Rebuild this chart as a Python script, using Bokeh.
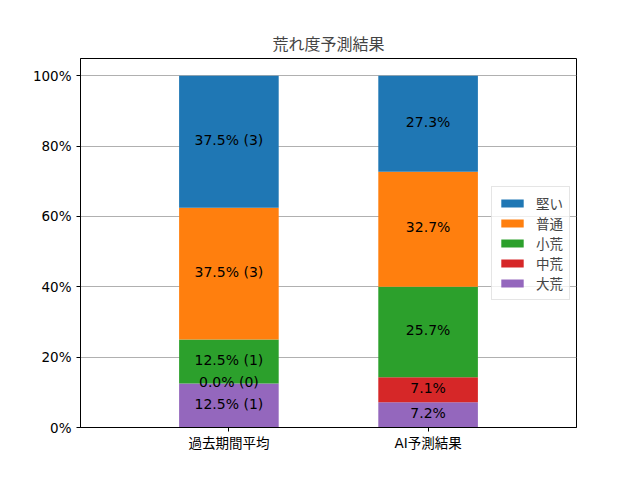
from bokeh.plotting import figure
from bokeh.models import ColumnDataSource, Range1d, FixedTicker, Legend, LegendItem
from bokeh.core.properties import value
from bokeh.embed import file_html
from bokeh.resources import INLINE

categories = ["過去期間平均", "AI予測結果"]
series = ["大荒", "中荒", "小荒", "普通", "堅い"]
colors = ["#9467bd", "#d62728", "#2ca02c", "#ff7f0e", "#1f77b4"]
past_values = [12.5, 0.0, 12.5, 37.5, 37.5]
past_counts = [1, 0, 1, 3, 3]
ai_values = [7.2, 7.1, 25.7, 32.7, 27.3]
y_ticks = [0, 20, 40, 60, 80, 100]

FONT = "DejaVu Sans, Noto Sans CJK JP"
xs = list(range(len(categories)))

data = {"x": xs}
for i, s in enumerate(series):
    data[s] = [past_values[i], ai_values[i]]
src = ColumnDataSource(data)

p = figure(width=624, height=464, output_backend="svg", toolbar_location=None,
           x_range=Range1d(-0.745, 1.745), y_range=Range1d(0, 104.9),
           min_border_left=80, min_border_right=48, min_border_top=58, min_border_bottom=37)

renderers = p.vbar_stack(series, x="x", width=0.5, color=colors, source=src, line_color=None)

# labels
lx, ly, lt = [], [], []
base = [0.0, 0.0]
for i, s in enumerate(series):
    vals = [past_values[i], ai_values[i]]
    for j in range(2):
        lx.append(xs[j])
        ly.append(base[j] + vals[j] / 2)
        if j == 0:
            lt.append(f"{vals[j]:.1f}% ({past_counts[i]})")
        else:
            lt.append(f"{vals[j]:.1f}%")
        base[j] += vals[j]
p.text(x=lx, y=ly, text=lt, text_align="center", text_baseline="middle", y_offset=-2,
       text_font=value(FONT), text_font_size="14px", text_color="black")

items = [LegendItem(label=series[i], renderers=[renderers[i]]) for i in reversed(range(len(series)))]
legend = Legend(items=items, location="center_right", label_text_font=FONT, label_text_font_size="13.5px",
                border_line_color="#cccccc", background_fill_alpha=0.8, glyph_width=28, glyph_height=10,
                label_height=16, spacing=0, padding=6, margin=6, label_standoff=10)
p.add_layout(legend)

p.title.text = "荒れ度予測結果"
p.title.align = "center"
p.title.text_font = FONT
p.title.text_font_size = "16px"
p.title.text_font_style = "normal"

p.xaxis.ticker = FixedTicker(ticks=xs)
p.xaxis.major_label_overrides = {i: c for i, c in enumerate(categories)}
p.xaxis.major_label_standoff = 3
p.yaxis.ticker = FixedTicker(ticks=y_ticks)
p.yaxis.major_label_overrides = {t: f"{t}%" for t in y_ticks}
for ax in (p.xaxis, p.yaxis):
    ax.major_label_text_font = FONT
    ax.major_label_text_font_size = "13.5px"
    ax.major_label_text_color = "black"
    ax.axis_line_color = "black"
    ax.major_tick_line_color = "black"
    ax.major_tick_in = 0
    ax.major_tick_out = 4
    ax.minor_tick_line_color = None
p.xgrid.grid_line_color = None
p.ygrid.grid_line_color = "#b0b0b0"
p.ygrid.grid_line_width = 1
p.outline_line_color = "black"
p.outline_line_alpha = 1

open("out.html", "w").write(file_html(p, INLINE))
